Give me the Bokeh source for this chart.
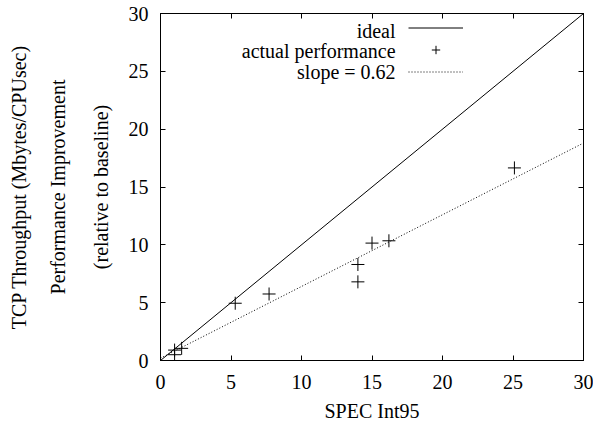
from bokeh.plotting import figure
from bokeh.models import (Range1d, LinearAxis, Label, Legend, LegendItem,
                          FixedTicker)
from bokeh.embed import file_html
from bokeh.resources import INLINE

# ---- data ----
spec_int95 = [1.0, 1.0, 1.5, 5.3, 7.7, 14.0, 14.0, 15.0, 16.2, 25.1]
improvement = [0.9, 0.5, 1.05, 4.95, 5.75, 6.8, 8.3, 10.15, 10.35, 16.65]
ideal_x = [0, 30]
ideal_y = [0, 30]
slope = 0.62
intercept = 0.2
fit_x = [0, 30]
fit_y = [intercept + slope * x for x in fit_x]
ticks = [0, 5, 10, 15, 20, 25, 30]
legend_labels = ["ideal", "actual performance", "slope = 0.62"]
x_title = "SPEC Int95"
y_titles = ["(relative to baseline)", "Performance Improvement",
            "TCP Throughput (Mbytes/CPUsec)"]

FONT = "Liberation Serif"
FS = "20px"

p = figure(width=593, height=424, output_backend="svg", toolbar_location=None,
           x_range=Range1d(0, 30), y_range=Range1d(0, 30),
           min_border_left=160, min_border_right=10, min_border_top=13,
           min_border_bottom=64, x_axis_location=None, y_axis_location=None)
p.grid.visible = False
p.outline_line_color = "black"
p.outline_line_width = 1
p.background_fill_color = "white"
p.border_fill_color = "white"


def make_axis(show_labels, tick_list=ticks):
    ax = LinearAxis(ticker=FixedTicker(ticks=tick_list))
    ax.major_tick_in = 5
    ax.major_tick_out = 0
    ax.minor_tick_line_color = None
    ax.axis_line_color = "black"
    ax.major_tick_line_color = "black"
    ax.major_label_text_font = FONT
    ax.major_label_text_color = "black"
    ax.axis_label_text_font = FONT
    ax.axis_label_text_font_size = FS
    ax.axis_label_text_font_style = "normal"
    ax.axis_label_text_color = "black"
    if show_labels:
        ax.major_label_text_font_size = FS
    else:
        ax.major_label_text_font_size = "1px"
        ax.major_label_overrides = {t: "" for t in tick_list}
        ax.major_label_standoff = 0
    return ax


bottom = make_axis(True)
bottom.major_label_standoff = 14
bottom.axis_label = x_title
bottom.axis_label_standoff = 8
left = make_axis(True)
left.major_label_standoff = 12
left.axis_label = y_titles[0]
left.axis_label_standoff = 14
top = make_axis(False)
right = make_axis(False)
p.add_layout(bottom, "below")
p.add_layout(left, "left")
p.add_layout(top, "above")
p.add_layout(right, "right")

# extra title-only axes on the left
for txt, so in zip(y_titles[1:], [18, 14]):
    ax = make_axis(False, [])
    ax.axis_line_color = None
    ax.major_tick_line_color = None
    ax.major_tick_in = 0
    ax.axis_label = txt
    ax.axis_label_standoff = so
    p.add_layout(ax, "left")

r_ideal = p.line(ideal_x, ideal_y, line_color="black", line_width=1)
r_pts = p.scatter(spec_int95, improvement, marker="cross", size=13,
                  line_color="black", line_width=1)
r_fit = p.line(fit_x, fit_y, line_color="black", line_width=1, line_dash="1 2")

legend = Legend(items=[LegendItem(label=" ", renderers=[r_ideal]),
                       LegendItem(label=" ", renderers=[r_pts]),
                       LegendItem(label=" ", renderers=[r_fit])],
                location=(248, 278), orientation="vertical",
                glyph_width=55, glyph_height=21, label_height=21,
                label_width=0, label_standoff=0, spacing=1, padding=0,
                margin=0, label_text_font_size="1px",
                border_line_alpha=0, background_fill_alpha=0)
p.add_layout(legend, "center")

# legend texts (right aligned, left of the samples)
for txt, yy in zip(legend_labels, [28.5, 26.75, 24.95]):
    p.add_layout(Label(x=16.67, y=yy, text=txt, text_align="right",
                       text_baseline="middle", text_font=FONT,
                       text_font_size=FS, text_color="black"))

open("out.html", "w").write(file_html(p, INLINE))
